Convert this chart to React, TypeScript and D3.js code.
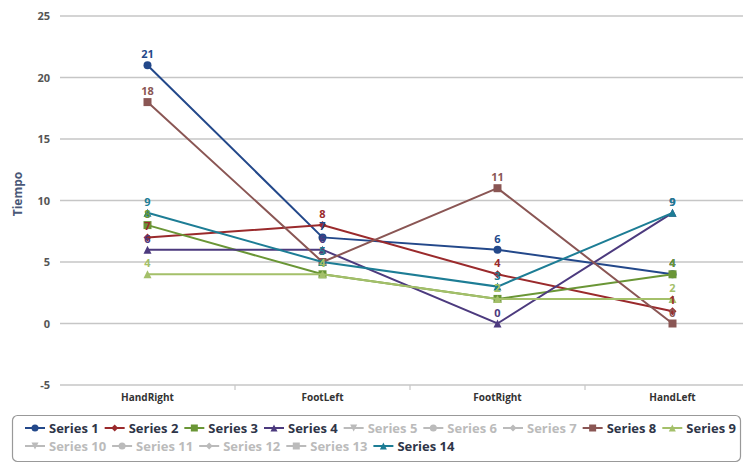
import { line, scaleBand, scaleLinear } from "d3";

const W = 743;
const H = 465;
const FONT = "'Open Sans', 'DejaVu Sans', sans-serif";

const categories = ["HandRight", "FootLeft", "FootRight", "HandLeft"];
const yTicks = [-5, 0, 5, 10, 15, 20, 25];

const seriesNames = [
  "Series 1", "Series 2", "Series 3", "Series 4", "Series 5", "Series 6", "Series 7",
  "Series 8", "Series 9", "Series 10", "Series 11", "Series 12", "Series 13", "Series 14",
];
const seriesColors = [
  "#23488a", "#9a2a2c", "#6a9636", "#4c3a7e", "#3d96ae", "#db843d", "#92a8cd",
  "#8a5654", "#a4c06a", "#23488a", "#9a2a2c", "#6a9636", "#4c3a7e", "#1d7d95",
];
const seriesMarkers = [
  "circle", "diamond", "square", "triangle", "triangle-down", "circle", "diamond",
  "square", "triangle", "triangle-down", "circle", "diamond", "square", "triangle",
];

// values per category: HandRight, FootLeft, FootRight, HandLeft (null = hidden series)
const series1 = [21, 7, 6, 4];
const series2 = [7, 8, 4, 1];
const series3 = [8, 4, 2, 4];
const series4 = [6, 6, 0, 9];
const series8 = [18, 5, 11, 0];
const series9 = [4, 4, 2, 2];
const series14 = [9, 5, 3, 9];

const seriesValues: (number[] | null)[] = [
  series1, series2, series3, series4, null, null, null,
  series8, series9, null, null, null, null, series14,
];

function markerPath(kind: string, cx: number, cy: number, r: number) {
  switch (kind) {
    case "circle":
      return `M${cx - r},${cy}a${r},${r} 0 1,0 ${2 * r},0a${r},${r} 0 1,0 ${-2 * r},0Z`;
    case "square":
      return `M${cx - r},${cy - r}h${2 * r}v${2 * r}h${-2 * r}Z`;
    case "diamond":
      return `M${cx},${cy - r}L${cx + r},${cy}L${cx},${cy + r}L${cx - r},${cy}Z`;
    case "triangle":
      return `M${cx},${cy - r}L${cx + r},${cy + r}L${cx - r},${cy + r}Z`;
    default:
      return `M${cx - r},${cy - r}L${cx + r},${cy - r}L${cx},${cy + r}Z`;
  }
}

function measure(text: string, font: string) {
  const ctx = document.createElement("canvas").getContext("2d");
  if (!ctx) return text.length * 6.5;
  ctx.font = font;
  return ctx.measureText(text).width;
}

export default function App() {
  const x = scaleBand<string>().domain(categories).range([60, 760]);
  const y = scaleLinear().domain([-5, 25]).range([385, 16]);
  const cx = (c: string) => (x(c) ?? 0) + x.bandwidth() / 2;

  const path = line<number>()
    .x((_, i) => cx(categories[i]))
    .y((d) => y(d));

  // legend layout
  const legendFont = `bold 13px ${FONT}`;
  const legendItems: { name: string; i: number; lx: number; ly: number }[] = [];
  let lx = 25;
  let ly = 433;
  seriesNames.forEach((name, i) => {
    const w = 20 + 4 + measure(name, legendFont) + 6;
    if (lx + w > 745) {
      lx = 25;
      ly += 18;
    }
    legendItems.push({ name, i, lx, ly });
    lx += w;
  });

  return (
    <svg width={W} height={H} style={{ position: "absolute", left: 0, top: 0, fontFamily: FONT }}>
      <rect width={W} height={H} fill="#fff" />
      {yTicks.map((t) => (
        <g key={t}>
          <line x1={60} x2={W} y1={y(t)} y2={y(t)} stroke="#c6c6c6" strokeWidth={1.6} />
          <text x={50} y={y(t) + 4} textAnchor="end" fontSize={11} fontWeight={700} fill="#555">
            {t}
          </text>
        </g>
      ))}
      {categories.slice(1).map((c) => (
        <line key={c} x1={x(c)} x2={x(c)} y1={385} y2={390} stroke="#c6c6c6" strokeWidth={1.2} />
      ))}
      {categories.map((c) => (
        <text key={c} x={cx(c)} y={401} textAnchor="middle" fontSize={10} fontWeight={700} fill="#333">
          {c}
        </text>
      ))}
      <text
        transform={`translate(22,194) rotate(-90)`}
        textAnchor="middle"
        fontSize={12}
        fontWeight={700}
        fill="#4a5878"
      >
        Tiempo
      </text>

      {seriesValues.map((vals, i) =>
        vals ? (
          <g key={i}>
            <path d={path(vals) ?? ""} fill="none" stroke={seriesColors[i]} strokeWidth={2} />
            {vals.map((v, j) => (
              <path key={j} d={markerPath(seriesMarkers[i], cx(categories[j]), y(v), 4)} fill={seriesColors[i]} />
            ))}
          </g>
        ) : null
      )}
      {seriesValues.map((vals, i) =>
        vals ? (
          <g key={`l${i}`}>
            {vals.map((v, j) => (
              <text
                key={j}
                x={cx(categories[j])}
                y={y(v) - 7}
                textAnchor="middle"
                fontSize={11}
                fontWeight={700}
                fill={seriesColors[i]}
              >
                {v}
              </text>
            ))}
          </g>
        ) : null
      )}

      <rect x={12.5} y={415.5} width={728} height={46} rx={5} fill="none" stroke="#999" strokeWidth={1.2} />
      {legendItems.map(({ name, i, lx, ly }) => {
        const hidden = !seriesValues[i];
        const col = hidden ? "#bbb" : seriesColors[i];
        return (
          <g key={name}>
            <line x1={lx} x2={lx + 20} y1={ly - 5} y2={ly - 5} stroke={col} strokeWidth={2} />
            <path d={markerPath(seriesMarkers[i], lx + 10, ly - 5, 3.5)} fill={col} />
            <text x={lx + 24} y={ly} fontSize={13} fontWeight={700} fill={hidden ? "#bbb" : "#2e3548"}>
              {name}
            </text>
          </g>
        );
      })}
    </svg>
  );
}
